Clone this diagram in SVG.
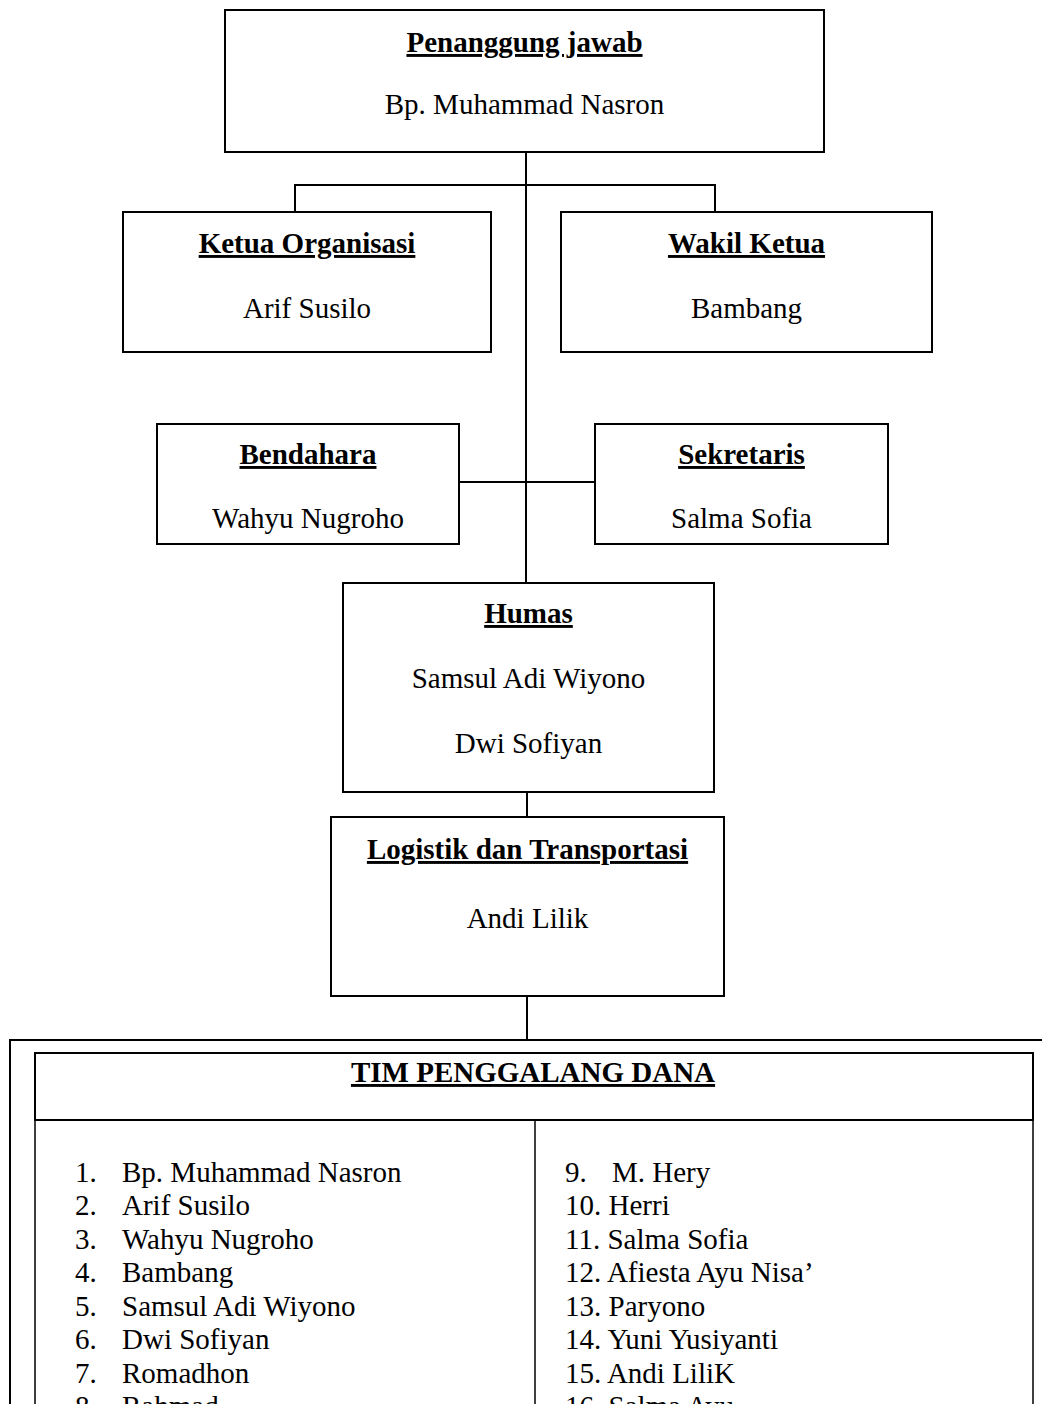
<svg xmlns="http://www.w3.org/2000/svg" width="1042" height="1404" viewBox="0 0 1042 1404">
<style>
.box{fill:#fff;stroke:#000;stroke-width:2}
.ln{stroke:#000;stroke-width:2;fill:none}
.t{font-family:"Liberation Serif","Times New Roman",serif;font-size:29px;fill:#000}
.h{font-weight:bold;text-decoration:underline}
.c{text-anchor:middle}
</style>
<rect width="1042" height="1404" fill="#fff"/>
<g id="connectors">
<line class="ln" x1="526" y1="146" x2="526" y2="583"/>
<polyline class="ln" points="295,212 295,185 715,185 715,212"/>
<line class="ln" x1="459" y1="482" x2="595" y2="482"/>
<line class="ln" x1="527" y1="792" x2="527" y2="817"/>
<line class="ln" x1="527" y1="996" x2="527" y2="1040"/>
</g>
<g id="penanggung-jawab">
<rect class="box" x="225" y="10" width="599" height="142"/>
<text class="t h c" x="524.5" y="52">Penanggung jawab</text>
<text class="t c" x="524.5" y="114">Bp. Muhammad Nasron</text>
</g>
<g id="ketua">
<rect class="box" x="123" y="212" width="368" height="140"/>
<text class="t h c" x="307" y="253">Ketua Organisasi</text>
<text class="t c" x="307" y="318">Arif Susilo</text>
</g>
<g id="wakil">
<rect class="box" x="561" y="212" width="371" height="140"/>
<text class="t h c" x="746.5" y="253">Wakil Ketua</text>
<text class="t c" x="746.5" y="318">Bambang</text>
</g>
<g id="bendahara">
<rect class="box" x="157" y="424" width="302" height="120"/>
<text class="t h c" x="308" y="464">Bendahara</text>
<text class="t c" x="308" y="528">Wahyu Nugroho</text>
</g>
<g id="sekretaris">
<rect class="box" x="595" y="424" width="293" height="120"/>
<text class="t h c" x="741.5" y="464">Sekretaris</text>
<text class="t c" x="741.5" y="528">Salma Sofia</text>
</g>
<g id="humas">
<rect class="box" x="343" y="583" width="371" height="209"/>
<text class="t h c" x="528.5" y="623">Humas</text>
<text class="t c" x="528.5" y="688">Samsul Adi Wiyono</text>
<text class="t c" x="528.5" y="753">Dwi Sofiyan</text>
</g>
<g id="logistik">
<rect class="box" x="331" y="817" width="393" height="179"/>
<text class="t h c" x="527.5" y="859">Logistik dan Transportasi</text>
<text class="t c" x="527.5" y="928">Andi Lilik</text>
</g>
<g id="tim-penggalang-dana">
<rect class="box" x="10" y="1040" width="1060" height="420" stroke-width="2.5"/>
<rect class="box" x="35" y="1053" width="998" height="67" stroke-width="1.5"/>
<rect x="35" y="1120" width="998" height="340" fill="none" stroke="#000" stroke-width="1.5"/>
<line x1="535" y1="1120" x2="535" y2="1404" stroke="#000" stroke-width="1.5"/>
<text class="t h c" x="533" y="1082">TIM PENGGALANG DANA</text>
<g class="t">
<text x="75" y="1182">1.</text><text x="122" y="1182">Bp. Muhammad Nasron</text>
<text x="75" y="1215">2.</text><text x="122" y="1215">Arif Susilo</text>
<text x="75" y="1249">3.</text><text x="122" y="1249">Wahyu Nugroho</text>
<text x="75" y="1282">4.</text><text x="122" y="1282">Bambang</text>
<text x="75" y="1316">5.</text><text x="122" y="1316">Samsul Adi Wiyono</text>
<text x="75" y="1349">6.</text><text x="122" y="1349">Dwi Sofiyan</text>
<text x="75" y="1383">7.</text><text x="122" y="1383">Romadhon</text>
<text x="75" y="1416">8.</text><text x="122" y="1416">Rahmad</text>
<text x="565" y="1182">9.</text><text x="612" y="1182">M. Hery</text>
<text x="565" y="1215">10. Herri</text>
<text x="565" y="1249">11. Salma Sofia</text>
<text x="565" y="1282">12. Afiesta Ayu Nisa’</text>
<text x="565" y="1316">13. Paryono</text>
<text x="565" y="1349">14. Yuni Yusiyanti</text>
<text x="565" y="1383">15. Andi LiliK</text>
<text x="565" y="1416">16. Salma Ayu</text>
</g>
</g>
</svg>
